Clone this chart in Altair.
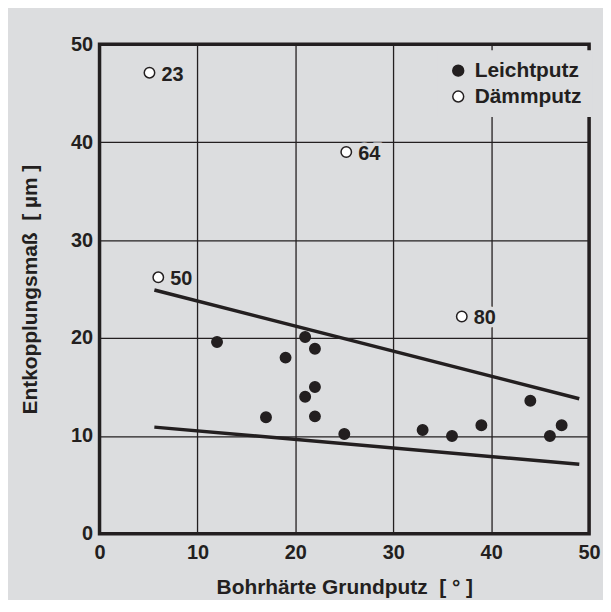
import altair as alt
import pandas as pd

# Leichtputz (filled)
leicht_x = [12, 17, 19, 21, 22, 21, 22, 22, 25, 33, 36, 39, 44, 46, 47.2]
leicht_y = [19.6, 11.9, 18.0, 20.1, 18.9, 14.0, 15.0, 12.0, 10.2, 10.6, 10.0, 11.1, 13.6, 10.0, 11.1]

# Dämmputz (open) with labels
daemm_x = [5.1, 25.2, 6.0, 37.0]
daemm_y = [47.1, 39.0, 26.2, 22.2]
daemm_lab = ["23", "64", "50", "80"]

# trend lines
upper_x = [5.6, 49.0]
upper_y = [24.9, 13.8]
lower_x = [5.6, 49.0]
lower_y = [10.9, 7.1]

BG = "#dcdddf"
INK = "#231f20"
FONT = "Liberation Sans"
NB = "\u00a0"

pts = pd.DataFrame({
    "x": leicht_x + daemm_x,
    "y": leicht_y + daemm_y,
    "typ": ["Leichtputz"] * len(leicht_x) + ["Dämmputz"] * len(daemm_x),
})
labs = pd.DataFrame({"x": daemm_x, "y": daemm_y, "lab": daemm_lab})
lines = pd.DataFrame({
    "x": upper_x + lower_x,
    "y": upper_y + lower_y,
    "g": ["o"] * len(upper_x) + ["u"] * len(lower_x),
})

xs = alt.Scale(domain=[0, 50], nice=False, zero=False)
ys = alt.Scale(domain=[0, 50], nice=False, zero=False)

xax = alt.Axis(values=[0, 10, 20, 30, 40, 50],
               title=f"Bohrhärte Grundputz{NB}{NB}[{NB}°{NB}]",
               labelPadding=9, titlePadding=14, labelFlush=False)
yax = alt.Axis(values=[0, 10, 20, 30, 40, 50],
               title=f"Entkopplungsmaß{NB}{NB}[{NB}µm{NB}]",
               labelPadding=7, titlePadding=30, labelFlush=False)

base_x = alt.X("x:Q", scale=xs, axis=xax)
base_y = alt.Y("y:Q", scale=ys, axis=yax)

line_layer = alt.Chart(lines).mark_line(color=INK, strokeWidth=3.5, strokeCap="butt").encode(
    x=base_x, y=base_y, detail="g:N"
)

point_layer = alt.Chart(pts).mark_point(
    filled=True, size=110, stroke=INK, strokeWidth=1.5, opacity=1, shape="circle"
).encode(
    x=base_x, y=base_y,
    fill=alt.Fill("typ:N", scale=alt.Scale(domain=["Leichtputz", "Dämmputz"], range=[INK, "white"]),
                  legend=alt.Legend(title=None, orient="none", legendX=340, legendY=6,
                                    labelFont=FONT, labelFontWeight="bold", labelFontSize=21,
                                    labelColor=INK, symbolSize=120, symbolStrokeColor=INK,
                                    symbolStrokeWidth=1.5, fillColor=BG, padding=10,
                                    rowPadding=4, labelOffset=6, symbolType="circle")),
)

halo = alt.Chart(labs).mark_text(
    align="left", baseline="middle", dx=12, dy=2, font=FONT, fontWeight="bold", fontSize=20,
    color=BG, stroke=BG, strokeWidth=7
).encode(x=base_x, y=base_y, text="lab:N")

text_layer = alt.Chart(labs).mark_text(
    align="left", baseline="middle", dx=12, dy=2, font=FONT, fontWeight="bold", fontSize=20,
    color=INK
).encode(x=base_x, y=base_y, text="lab:N")

chart = alt.layer(line_layer, point_layer, halo, text_layer).properties(
    width=492, height=492,
    background=BG,
    padding={"left": 92, "top": 35, "right": 14, "bottom": 65},
    autosize=alt.AutoSizeParams(type="none"),
).configure_view(
    stroke=INK, strokeWidth=3.5, fill=BG
).configure_axis(
    domain=False, ticks=False, grid=True, gridColor=INK, gridWidth=1.3, gridOpacity=1,
    labelFont=FONT, labelFontWeight="bold", labelFontSize=20, labelColor=INK,
    titleFont=FONT, titleFontWeight="bold", titleFontSize=21, titleColor=INK,
)

chart.save("out.html", embed_options={"renderer": "svg", "actions": False})
